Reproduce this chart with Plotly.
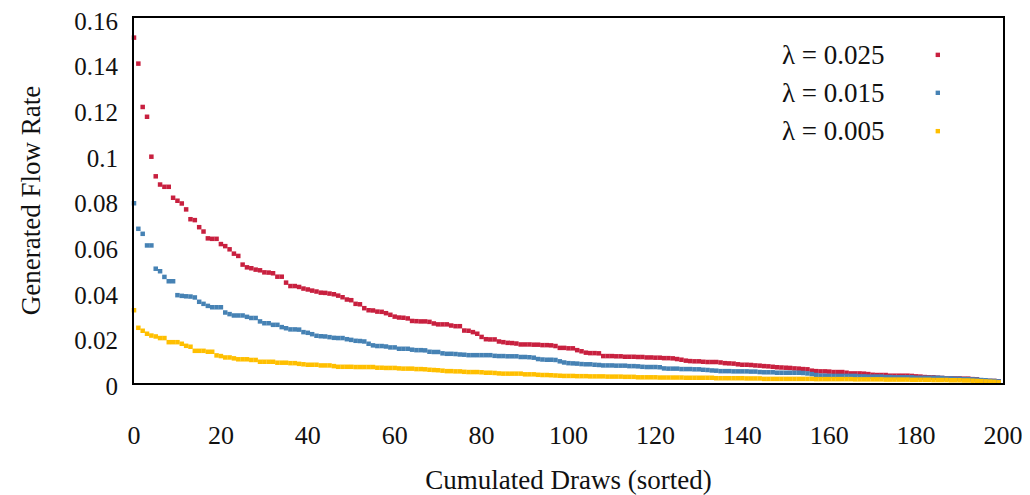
import plotly.graph_objects as go

# Generated flow rate per sorted draw, for three lambda values
lam_025 = [
    0.1514, 0.1400, 0.1210, 0.1167, 0.0992, 0.0906, 0.0870, 0.0860, 0.0860, 0.0812,
    0.0799, 0.0787, 0.0761, 0.0718, 0.0714, 0.0683, 0.0664, 0.0634, 0.0632, 0.0632,
    0.0609, 0.0600, 0.0586, 0.0567, 0.0557, 0.0519, 0.0507, 0.0503, 0.0497, 0.0494,
    0.0485, 0.0484, 0.0481, 0.0466, 0.0466, 0.0440, 0.0425, 0.0425, 0.0421, 0.0414,
    0.0410, 0.0405, 0.0401, 0.0396, 0.0395, 0.0392, 0.0389, 0.0383, 0.0376, 0.0366,
    0.0363, 0.0347, 0.0345, 0.0328, 0.0319, 0.0318, 0.0313, 0.0312, 0.0306, 0.0299,
    0.0291, 0.0287, 0.0286, 0.0283, 0.0272, 0.0271, 0.0270, 0.0270, 0.0268, 0.0261,
    0.0257, 0.0257, 0.0257, 0.0252, 0.0249, 0.0249, 0.0230, 0.0229, 0.0223, 0.0216,
    0.0202, 0.0192, 0.0191, 0.0191, 0.0182, 0.0179, 0.0176, 0.0175, 0.0173, 0.0169,
    0.0169, 0.0169, 0.0168, 0.0168, 0.0166, 0.0166, 0.0165, 0.0162, 0.0154, 0.0154,
    0.0152, 0.0152, 0.0144, 0.0139, 0.0133, 0.0131, 0.0131, 0.0130, 0.0118, 0.0118,
    0.0118, 0.0117, 0.0117, 0.0115, 0.0115, 0.0115, 0.0114, 0.0114, 0.0112, 0.0112,
    0.0111, 0.0111, 0.0109, 0.0109, 0.0108, 0.0105, 0.0102, 0.0098, 0.0096, 0.0095,
    0.0095, 0.0093, 0.0092, 0.0092, 0.0092, 0.0090, 0.0087, 0.0086, 0.0085, 0.0082,
    0.0080, 0.0080, 0.0079, 0.0077, 0.0076, 0.0074, 0.0073, 0.0071, 0.0069, 0.0068,
    0.0067, 0.0066, 0.0064, 0.0063, 0.0061, 0.0060, 0.0054, 0.0052, 0.0051, 0.0051,
    0.0050, 0.0048, 0.0048, 0.0048, 0.0045, 0.0042, 0.0042, 0.0042, 0.0041, 0.0039,
    0.0036, 0.0035, 0.0035, 0.0035, 0.0032, 0.0032, 0.0032, 0.0032, 0.0032, 0.0031,
    0.0029, 0.0028, 0.0026, 0.0025, 0.0025, 0.0023, 0.0022, 0.0020, 0.0020, 0.0020,
    0.0020, 0.0019, 0.0019, 0.0017, 0.0016, 0.0010, 0.0009, 0.0009, 0.0009, 0.0007,
]

lam_015 = [
    0.0788, 0.0676, 0.0654, 0.0603, 0.0603, 0.0501, 0.0490, 0.0465, 0.0446, 0.0446,
    0.0385, 0.0382, 0.0380, 0.0379, 0.0375, 0.0356, 0.0347, 0.0338, 0.0332, 0.0332,
    0.0332, 0.0309, 0.0302, 0.0296, 0.0296, 0.0296, 0.0290, 0.0285, 0.0285, 0.0270,
    0.0262, 0.0262, 0.0255, 0.0255, 0.0245, 0.0240, 0.0235, 0.0235, 0.0234, 0.0223,
    0.0220, 0.0214, 0.0207, 0.0205, 0.0204, 0.0201, 0.0198, 0.0197, 0.0197, 0.0192,
    0.0189, 0.0185, 0.0184, 0.0182, 0.0172, 0.0165, 0.0162, 0.0162, 0.0160, 0.0156,
    0.0156, 0.0150, 0.0150, 0.0150, 0.0146, 0.0144, 0.0144, 0.0143, 0.0137, 0.0136,
    0.0136, 0.0130, 0.0128, 0.0128, 0.0127, 0.0125, 0.0124, 0.0122, 0.0122, 0.0122,
    0.0122, 0.0122, 0.0122, 0.0119, 0.0118, 0.0118, 0.0117, 0.0117, 0.0117, 0.0114,
    0.0114, 0.0113, 0.0111, 0.0105, 0.0103, 0.0102, 0.0102, 0.0101, 0.0095, 0.0090,
    0.0087, 0.0086, 0.0085, 0.0083, 0.0082, 0.0082, 0.0080, 0.0079, 0.0077, 0.0077,
    0.0077, 0.0076, 0.0076, 0.0076, 0.0074, 0.0074, 0.0073, 0.0071, 0.0070, 0.0070,
    0.0070, 0.0069, 0.0064, 0.0063, 0.0063, 0.0063, 0.0061, 0.0061, 0.0061, 0.0060,
    0.0060, 0.0058, 0.0057, 0.0055, 0.0054, 0.0052, 0.0052, 0.0052, 0.0051, 0.0051,
    0.0051, 0.0051, 0.0050, 0.0050, 0.0048, 0.0047, 0.0047, 0.0047, 0.0045, 0.0045,
    0.0045, 0.0045, 0.0045, 0.0045, 0.0044, 0.0042, 0.0039, 0.0035, 0.0032, 0.0032,
    0.0031, 0.0031, 0.0031, 0.0031, 0.0031, 0.0031, 0.0031, 0.0029, 0.0029, 0.0028,
    0.0028, 0.0028, 0.0028, 0.0026, 0.0026, 0.0025, 0.0025, 0.0025, 0.0025, 0.0025,
    0.0023, 0.0023, 0.0023, 0.0023, 0.0023, 0.0023, 0.0022, 0.0020, 0.0020, 0.0019,
    0.0019, 0.0017, 0.0017, 0.0016, 0.0015, 0.0013, 0.0012, 0.0010, 0.0009, 0.0007,
]

lam_005 = [
    0.0319, 0.0242, 0.0229, 0.0216, 0.0208, 0.0204, 0.0197, 0.0197, 0.0179, 0.0179,
    0.0179, 0.0172, 0.0163, 0.0159, 0.0141, 0.0141, 0.0141, 0.0137, 0.0137, 0.0121,
    0.0118, 0.0112, 0.0112, 0.0108, 0.0104, 0.0104, 0.0104, 0.0101, 0.0101, 0.0093,
    0.0093, 0.0093, 0.0093, 0.0089, 0.0089, 0.0089, 0.0087, 0.0087, 0.0084, 0.0082,
    0.0080, 0.0080, 0.0080, 0.0077, 0.0077, 0.0077, 0.0074, 0.0071, 0.0071, 0.0071,
    0.0071, 0.0070, 0.0070, 0.0070, 0.0070, 0.0070, 0.0067, 0.0067, 0.0066, 0.0066,
    0.0066, 0.0064, 0.0063, 0.0063, 0.0063, 0.0061, 0.0061, 0.0060, 0.0058, 0.0057,
    0.0056, 0.0054, 0.0052, 0.0052, 0.0051, 0.0051, 0.0049, 0.0048, 0.0048, 0.0048,
    0.0047, 0.0045, 0.0045, 0.0044, 0.0042, 0.0041, 0.0041, 0.0041, 0.0041, 0.0041,
    0.0038, 0.0038, 0.0038, 0.0036, 0.0035, 0.0035, 0.0034, 0.0033, 0.0032, 0.0031,
    0.0031, 0.0031, 0.0030, 0.0030, 0.0030, 0.0029, 0.0029, 0.0029, 0.0029, 0.0028,
    0.0028, 0.0028, 0.0028, 0.0027, 0.0027, 0.0027, 0.0025, 0.0025, 0.0025, 0.0025,
    0.0025, 0.0024, 0.0024, 0.0024, 0.0024, 0.0024, 0.0024, 0.0023, 0.0023, 0.0023,
    0.0023, 0.0023, 0.0023, 0.0023, 0.0021, 0.0021, 0.0021, 0.0021, 0.0021, 0.0021,
    0.0021, 0.0020, 0.0020, 0.0020, 0.0020, 0.0018, 0.0018, 0.0018, 0.0018, 0.0018,
    0.0018, 0.0018, 0.0018, 0.0018, 0.0018, 0.0018, 0.0018, 0.0017, 0.0017, 0.0017,
    0.0017, 0.0017, 0.0017, 0.0017, 0.0017, 0.0017, 0.0016, 0.0016, 0.0016, 0.0016,
    0.0016, 0.0016, 0.0016, 0.0015, 0.0015, 0.0015, 0.0015, 0.0015, 0.0015, 0.0014,
    0.0014, 0.0014, 0.0014, 0.0014, 0.0013, 0.0013, 0.0013, 0.0013, 0.0012, 0.0012,
    0.0012, 0.0011, 0.0011, 0.0010, 0.0009, 0.0008, 0.0007, 0.0006, 0.0005, 0.0003,
]

series_names = ["λ = 0.025", "λ = 0.015", "λ = 0.005"]
series_values = [lam_025, lam_015, lam_005]
series_colors = ["#C8203F", "#4682B4", "#FFBF00"]

x_ticks = [0, 20, 40, 60, 80, 100, 120, 140, 160, 180, 200]
y_ticks = [0, 0.02, 0.04, 0.06, 0.08, 0.1, 0.12, 0.14, 0.16]
y_ticktext = ["0", "0.02", "0.04", "0.06", "0.08", "0.1", "0.12", "0.14", "0.16"]

FONT = "Liberation Serif"

fig = go.Figure()
for name, vals, col in zip(series_names, series_values, series_colors):
    fig.add_trace(go.Scatter(
        x=list(range(len(vals))), y=vals, mode="markers", name=name,
        marker=dict(symbol="square", size=4.5, color=col, line=dict(width=0)),
        showlegend=False, cliponaxis=False,
    ))

# legend drawn as right-aligned text with marker to its right
legend_y = [0.899, 0.795, 0.690]
for name, col, ly in zip(series_names, series_colors, legend_y):
    fig.add_annotation(
        xref="paper", yref="paper", x=0.866, y=ly, text=name, showarrow=False,
        xanchor="right", yanchor="middle", font=dict(family=FONT, size=27, color="#111"),
    )
    fig.add_shape(
        type="rect", xref="paper", yref="paper",
        xsizemode="pixel", ysizemode="pixel", xanchor=0.925, yanchor=ly,
        x0=-2.2, x1=2.2, y0=-2.2, y1=2.2, fillcolor=col, line=dict(width=0),
    )

# the page body adds an 8px offset, so the figure is sized to fit the window
fig.update_layout(
    width=1022, height=487,
    margin=dict(l=126, r=27, t=10, b=112, autoexpand=False),
    paper_bgcolor="white", plot_bgcolor="white",
    font=dict(family=FONT, size=26, color="#111"),
    xaxis=dict(
        range=[0, 200], tickvals=x_ticks, showgrid=False, zeroline=False,
        showline=True, linecolor="black", linewidth=2, mirror=True, automargin=False,
        ticks="", ticklabelstandoff=28, tickfont=dict(size=26), ticklabeloverflow="allow",
        title=dict(text="Cumulated Draws (sorted)", font=dict(size=27), standoff=22),
    ),
    yaxis=dict(
        range=[0, 0.16], tickvals=y_ticks, ticktext=y_ticktext, showgrid=False,
        zeroline=False, showline=True, linecolor="black", linewidth=2, mirror=True,
        automargin=False, ticks="", ticklabelstandoff=9, tickfont=dict(size=25),
        ticklabeloverflow="allow", ticklabelshift=3,
        title=dict(text="Generated Flow Rate", font=dict(size=27), standoff=26),
    ),
)

fig.write_html("out.html")
